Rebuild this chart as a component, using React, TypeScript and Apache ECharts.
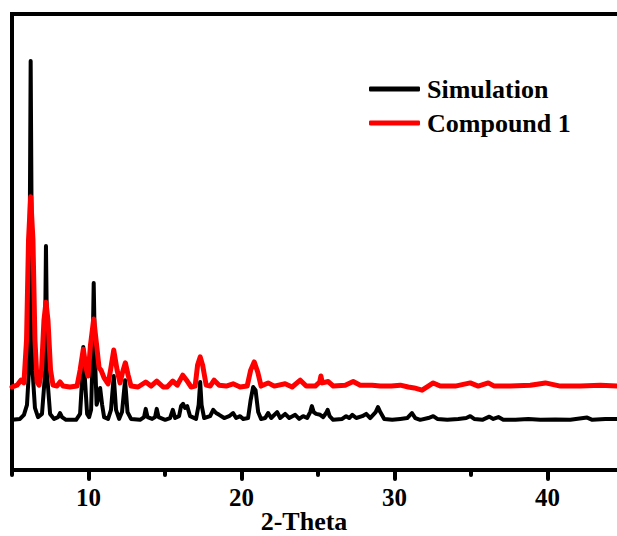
import { useEffect, useRef } from "react";
import * as echarts from "echarts";

// 2-Theta (deg), intensity (a.u., offset trace)
const simulation: [number, number][] = [
  [5.0, 11.0], [5.52, 11.2], [5.78, 12.1], [5.98, 14.3], [6.11, 21.9], [6.22, 89.7], [6.34, 21.9], [6.5, 13.6],
  [6.7, 11.6], [6.96, 12.3], [7.13, 19.7], [7.22, 49.1], [7.32, 19.7], [7.49, 12.3], [7.75, 11.2], [8.01, 11.6],
  [8.14, 12.5], [8.27, 11.6], [8.53, 11.0], [9.19, 11.0], [9.45, 12.3], [9.58, 19.7], [9.66, 27.0], [9.77, 19.7],
  [9.91, 12.3], [10.04, 11.6], [10.17, 13.2], [10.26, 24.1], [10.34, 41.0], [10.43, 24.1], [10.53, 14.3], [10.62, 15.4],
  [10.76, 18.0], [10.89, 14.3], [11.02, 11.6], [11.28, 11.2], [11.47, 13.2], [11.65, 20.6], [11.8, 13.2], [12.0, 11.2],
  [12.19, 12.7], [12.39, 19.7], [12.55, 12.7], [12.78, 11.2], [13.37, 11.0], [13.63, 11.6], [13.74, 13.4], [13.86, 11.6],
  [14.16, 11.2], [14.35, 11.6], [14.46, 13.4], [14.58, 11.6], [15.01, 11.0], [15.33, 11.4], [15.51, 13.2], [15.66, 11.4],
  [15.92, 11.8], [16.05, 14.0], [16.18, 14.5], [16.31, 13.6], [16.45, 14.0], [16.64, 11.8], [17.03, 11.2], [17.2, 14.3],
  [17.3, 19.3], [17.39, 14.3], [17.56, 11.4], [17.95, 11.8], [18.15, 13.2], [18.34, 12.5], [18.54, 12.1], [18.87, 11.4],
  [19.19, 11.8], [19.45, 12.5], [19.65, 11.4], [19.91, 11.8], [20.11, 11.2], [20.43, 11.4], [20.6, 15.4], [20.76, 18.2],
  [20.92, 17.5], [21.09, 12.7], [21.28, 11.2], [21.55, 11.4], [21.74, 12.5], [21.94, 11.4], [22.33, 12.7], [22.53, 11.4],
  [22.85, 12.3], [23.12, 11.4], [23.51, 12.1], [23.77, 11.2], [24.03, 11.8], [24.29, 11.4], [24.49, 12.7], [24.6, 14.0],
  [24.72, 12.7], [24.88, 12.3], [25.14, 12.1], [25.34, 11.6], [25.53, 12.5], [25.63, 13.2], [25.76, 11.8], [25.99, 11.0],
  [26.58, 11.2], [26.84, 11.8], [27.04, 11.4], [27.24, 12.1], [27.5, 11.4], [27.89, 11.8], [28.15, 12.3], [28.41, 11.4],
  [28.77, 12.7], [28.92, 13.8], [29.07, 12.7], [29.33, 11.2], [29.85, 11.0], [30.38, 11.2], [30.83, 11.4], [31.14, 12.5],
  [31.36, 11.4], [31.68, 11.0], [32.21, 11.4], [32.53, 11.8], [32.8, 11.2], [33.45, 11.0], [34.17, 11.2], [34.69, 11.4],
  [34.95, 11.8], [35.21, 11.2], [35.74, 11.0], [36.2, 11.7], [36.46, 11.2], [36.79, 11.6], [37.11, 11.0], [37.9, 11.0],
  [38.75, 11.2], [39.53, 11.0], [40.51, 11.1], [41.49, 11.0], [42.59, 11.5], [42.93, 11.0], [43.78, 11.2], [45.0, 11.2],
];

const compound1: [number, number][] = [
  [5.0, 18.2], [5.33, 18.6], [5.59, 19.7], [5.78, 19.1], [5.95, 28.5], [6.08, 50.4], [6.22, 59.9], [6.37, 50.4],
  [6.5, 28.5], [6.64, 19.3], [6.77, 18.6], [6.93, 21.9], [7.09, 32.9], [7.22, 36.8], [7.35, 32.9], [7.52, 21.9],
  [7.68, 18.6], [7.94, 18.4], [8.14, 19.3], [8.34, 18.4], [8.79, 18.2], [9.25, 18.4], [9.45, 21.9], [9.66, 26.5],
  [9.84, 22.4], [9.97, 20.6], [10.13, 27.4], [10.34, 33.1], [10.53, 27.4], [10.69, 22.4], [10.82, 21.9], [11.02, 20.2],
  [11.28, 18.9], [11.44, 21.9], [11.65, 26.3], [11.87, 21.9], [12.06, 19.1], [12.23, 21.5], [12.41, 23.5], [12.59, 20.8],
  [12.78, 18.4], [13.24, 18.2], [13.74, 19.3], [14.09, 18.4], [14.46, 19.5], [14.88, 18.2], [15.14, 18.2], [15.51, 19.5],
  [15.8, 18.6], [16.16, 20.8], [16.45, 19.5], [16.71, 18.2], [16.97, 18.4], [17.13, 23.0], [17.3, 24.8], [17.46, 23.0],
  [17.69, 18.6], [17.95, 18.4], [18.21, 19.7], [18.54, 18.6], [19.0, 18.4], [19.45, 18.9], [19.91, 18.2], [20.37, 18.4],
  [20.6, 21.9], [20.83, 23.7], [21.06, 21.5], [21.28, 18.4], [21.74, 19.1], [22.14, 18.4], [22.85, 18.9], [23.31, 18.2],
  [23.84, 19.7], [24.23, 18.4], [24.82, 18.4], [25.11, 19.3], [25.19, 20.6], [25.28, 19.1], [25.67, 19.4], [26.0, 18.4],
  [26.78, 18.6], [27.3, 19.4], [27.76, 18.6], [28.54, 18.6], [29.07, 18.4], [29.79, 18.4], [30.38, 18.6], [30.9, 18.2],
  [31.29, 18.0], [31.8, 17.5], [32.21, 18.4], [32.53, 19.1], [32.99, 18.4], [33.97, 18.4], [34.95, 19.1], [35.47, 18.4],
  [36.13, 19.1], [36.52, 18.4], [37.57, 18.4], [38.88, 18.6], [39.86, 19.1], [40.84, 18.4], [42.15, 18.4], [43.46, 18.6],
  [44.57, 18.4], [45.0, 18.4],
];

const seriesNames = ["Simulation", "Compound 1"];
const majorTicks = [10, 20, 30, 40];
const minorTicks = [5, 15, 25, 35, 45];

const FONT = "'Liberation Serif', 'Times New Roman', serif";

export default function App() {
  const ref = useRef<HTMLDivElement>(null);
  useEffect(() => {
    if (!ref.current) return;
    const chart = echarts.init(ref.current, undefined, { renderer: "svg" });
    chart.setOption({
      animation: false,
      backgroundColor: "#ffffff",
      grid: {
        left: 12,
        right: -7,
        top: 14,
        bottom: 66,
        outerBoundsMode: "none",
        containLabel: false,
        show: true,
        borderColor: "#000",
        borderWidth: 4,
        backgroundColor: "transparent",
      },
      legend: {
        orient: "vertical",
        left: 369,
        top: 76,
        padding: 0,
        itemWidth: 51,
        itemHeight: 5,
        itemGap: 8,
        data: [
          { name: seriesNames[0], icon: "roundRect" },
          { name: seriesNames[1], icon: "roundRect" },
        ],
        textStyle: {
          fontFamily: FONT,
          fontWeight: "bold",
          fontSize: 26,
          color: "#000",
          padding: [0, 0, 0, 2],
        },
      },
      xAxis: [
        {
          type: "value",
          min: 5,
          max: 45,
          position: "bottom",
          name: "2-Theta",
          nameLocation: "middle",
          nameGap: 38,
          nameMoveOverlap: false,
          nameTextStyle: {
            fontFamily: FONT,
            fontWeight: "bold",
            fontSize: 26,
            color: "#000",
            padding: [0, 28, 0, 0],
          },
          axisLine: { show: true, lineStyle: { color: "#000", width: 4 } },
          axisTick: {
            show: true,
            customValues: majorTicks,
            length: 9,
            lineStyle: { color: "#000", width: 4, cap: "round" },
          },
          axisLabel: {
            show: true,
            customValues: majorTicks,
            margin: 15,
            fontFamily: FONT,
            fontWeight: "bold",
            fontSize: 25,
            color: "#000",
          },
          splitLine: { show: false },
        },
        {
          type: "value",
          min: 5,
          max: 45,
          position: "bottom",
          axisLine: { show: false },
          axisTick: {
            show: true,
            customValues: minorTicks,
            length: 5,
            lineStyle: { color: "#000", width: 4, cap: "round" },
          },
          axisLabel: { show: false },
          splitLine: { show: false },
        },
      ],
      yAxis: {
        type: "value",
        min: 0,
        max: 100,
        show: false,
        splitLine: { show: false },
      },
      series: [
        {
          name: seriesNames[0],
          type: "line",
          data: simulation,
          showSymbol: false,
          symbol: "none",
          color: "#000000",
          lineStyle: { color: "#000000", width: 4, join: "round", cap: "round" },
          z: 2,
        },
        {
          name: seriesNames[1],
          type: "line",
          data: compound1,
          showSymbol: false,
          symbol: "none",
          color: "#ff0000",
          lineStyle: { color: "#ff0000", width: 5, join: "round", cap: "round" },
          z: 3,
        },
      ],
    });
    return () => chart.dispose();
  }, []);
  return (
    <div
      ref={ref}
      style={{ position: "fixed", left: 0, top: 0, width: 617, height: 536 }}
    />
  );
}
